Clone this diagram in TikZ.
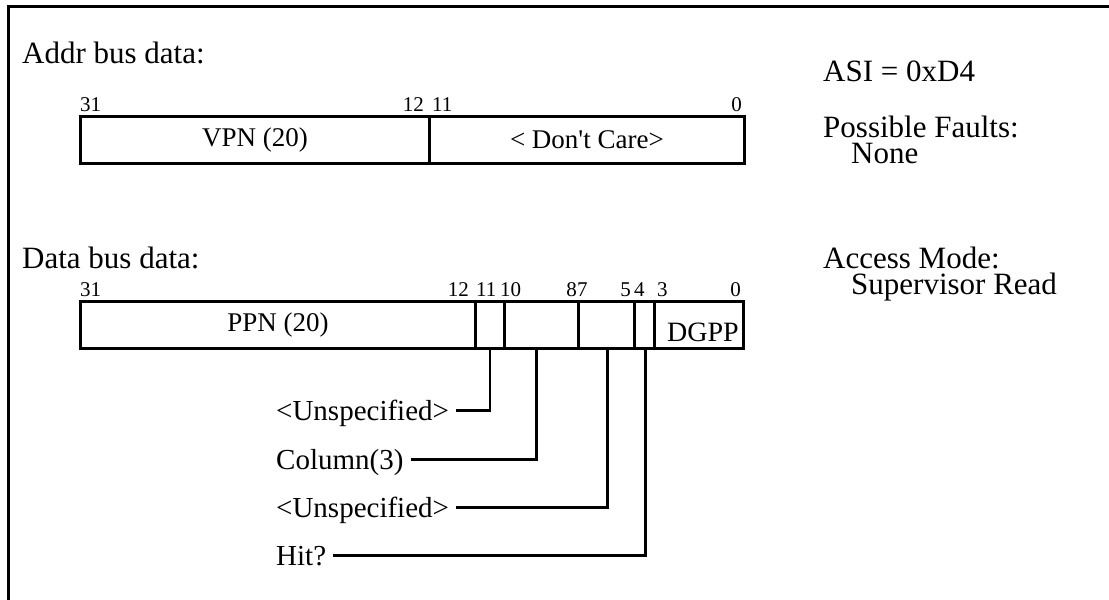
\documentclass[tikz,border=0pt]{standalone}
\usepackage{fontspec}
\setmainfont{Liberation Serif}
\begin{document}
\begin{tikzpicture}[x=1pt,y=-1pt,
  frame/.style={line width=3pt},
  cell/.style={draw, line width=2.8pt, rectangle, inner sep=0pt, anchor=north west},
  head/.style={anchor=base west, inner sep=0pt, font=\fontsize{31}{33}\selectfont},
  bit/.style={inner sep=0pt, font=\fontsize{21}{22}\selectfont},
  flabel/.style={inner sep=0pt, font=\fontsize{27}{29}\selectfont},
  call/.style={anchor=base west, inner xsep=0pt, inner ysep=0pt, text height=19pt, text depth=0pt, font=\fontsize{29}{31}\selectfont},
  conn/.style={line width=2.8pt}]
\useasboundingbox (0,0) rectangle (1109,600);
% frame (cropped: top and left edges)
\coordinate (ftl) at (8,6);
\coordinate (ftr) at (1109,6);
\coordinate (fbl) at (8,600);
\draw[frame] (ftr) -- (ftl) -- (fbl);

% headings
\node[head] (addrh) at (22,63) {Addr bus data:};
\node[head] (datah) at (22,268) {Data bus data:};
\node[head] (asi) at (823,81) {ASI = 0xD4};
\node[head] (pf) at (823,137) {Possible Faults:};
\node[head] (none) at (851,163) {None};
\node[head] (am) at (823,268) {Access Mode:};
\node[head] (sr) at (851,294) {Supervisor Read};

% Address bus register
\node[cell, minimum width=349pt, minimum height=47pt] (vpn) at (79,115) {};
\node[cell, minimum width=315pt, minimum height=47pt] (dc) at (428,115) {};
\node[flabel] (vpnl) at (vpn.center) {VPN (20)};
\node[flabel] (dcl) at (dc.center) {< Don\textquotesingle t Care>};
\node[bit, anchor=base west] (a31) at (80,111) {31};
\node[bit, anchor=base east] (a12) at (424,111) {12};
\node[bit, anchor=base west] (a11) at (432,111) {11};
\node[bit, anchor=base east] (a0) at (742,111) {0};

% Data bus register
\node[cell, minimum width=395pt, minimum height=47pt] (ppn) at (79,300) {};
\node[cell, minimum width=29pt, minimum height=47pt] (c11) at (474,300) {};
\node[cell, minimum width=74pt, minimum height=47pt] (c10) at (503,300) {};
\node[cell, minimum width=56pt, minimum height=47pt] (c7) at (577,300) {};
\node[cell, minimum width=20pt, minimum height=47pt] (c4) at (633,300) {};
\node[cell, minimum width=89pt, minimum height=47pt] (c3) at (653,300) {};
\node[flabel] (ppnl) at (ppn.center) {PPN (20)};
\node[flabel, anchor=base east, font=\fontsize{28}{30}\selectfont] (dgpp) at (739,341) {DGPP};
\node[bit, anchor=base west] (d31) at (80,296) {31};
\node[bit, anchor=base east] (d12) at (469,296) {12};
\node[bit, anchor=base west] (d11) at (476,296) {11};
\node[bit, anchor=base west] (d10) at (500,296) {10};
\node[bit, anchor=base east] (d8) at (577,296) {8};
\node[bit, anchor=base west] (d7) at (577,296) {7};
\node[bit, anchor=base east] (d5) at (631,296) {5};
\node[bit, anchor=base west] (d4) at (634,296) {4};
\node[bit, anchor=base west] (d3) at (657,296) {3};
\node[bit, anchor=base east] (d0) at (741,296) {0};

% callouts
\node[call] (u1) at (276,420) {<Unspecified>};
\node[call] (col) at (276,469) {Column(3)};
\node[call] (u2) at (276,517) {<Unspecified>};
\node[call] (hit) at (276,565) {Hit?};
\draw[conn] (c11.south) |- ([xshift=7pt]u1.east);
\draw[conn] ([xshift=-5pt]c10.south) |- ([xshift=7pt]col.east);
\draw[conn] ([xshift=1pt]c7.south) |- ([xshift=7pt]u2.east);
\draw[conn] ([xshift=1pt]c4.south) |- ([xshift=7pt]hit.east);
\end{tikzpicture}
\end{document}
